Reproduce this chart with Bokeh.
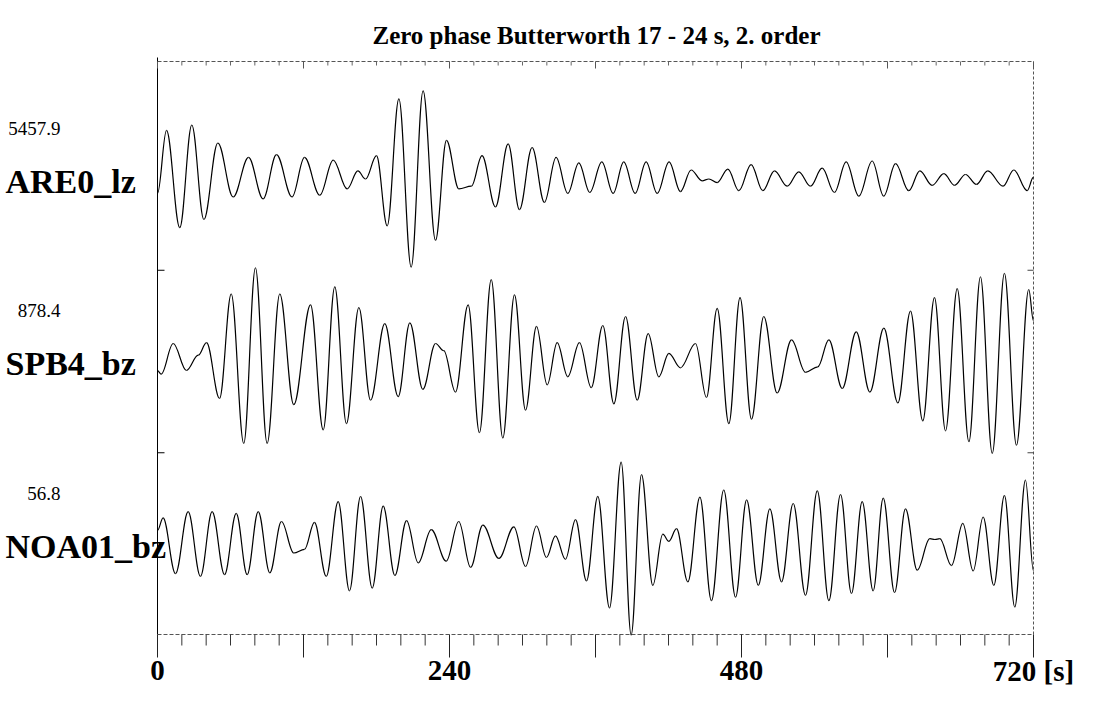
import numpy as np
from bokeh.plotting import figure
from bokeh.models import Range1d
from bokeh.core.properties import value
from bokeh.embed import file_html
from bokeh.resources import INLINE

# ---------------- data ----------------
title_text = "Zero phase Butterworth 17 - 24 s, 2. order"
stations = ["ARE0_lz", "SPB4_bz", "NOA01_bz"]
max_amps = ["5457.9", "878.4", "56.8"]
x_major = [0, 120, 240, 360, 480, 600, 720]
x_major_labels = ["0", "", "240", "", "480", "", "720 [s]"]
x_minor = list(range(0, 721, 20))

# extrema of each normalised trace (time [s], amplitude / max amplitude)
are0_t = [0, 7.4, 18.3, 28.2, 38.1, 49.6, 62.2, 74.8, 86.8, 97.8, 110.6, 120.8, 133.4,
          144.4, 155.9, 164.7, 171.0, 180.0, 188.8, 198.4, 208.5, 218.3, 228.5, 237.5,
          247.7, 258.0, 266.7, 277.8, 288.2, 297.5, 307.9, 318.0, 327.6, 337.2, 346.3,
          355.3, 365.2, 374.5, 383.2, 392.6, 401.6, 410.7, 420.5, 429.8, 438.6, 447.6,
          453.2, 460.0, 468.8, 477.8, 487.9, 497.5, 507.1, 517.5, 527.1, 536.7, 546.3,
          556.4, 566.0, 576.4, 587.4, 596.9, 606.6, 617.5, 626.6, 636.7, 646.3, 655.1,
          664.1, 673.1, 682.4, 695.0, 703.8, 714.8, 720.0]
are0_a = [-0.16, 0.54, -0.54, 0.60, -0.45, 0.40, -0.20, 0.24, -0.22, 0.27, -0.20, 0.24, -0.18,
          0.21, -0.11, 0.09, 0.00, 0.26, -0.52, 0.89, -0.98, 0.98, -0.68, 0.43,
          -0.11, -0.08, 0.26, -0.31, 0.39, -0.34, 0.35, -0.26, 0.24, -0.16, 0.18,
          -0.15, 0.19, -0.16, 0.19, -0.16, 0.19, -0.16, 0.19, -0.14, 0.10, -0.02,
          0.00, -0.04, 0.11, -0.13, 0.16, -0.13, 0.09, -0.08, 0.08, -0.08, 0.12,
          -0.15, 0.19, -0.19, 0.20, -0.19, 0.17, -0.13, 0.09, -0.07, 0.06, -0.07,
          0.05, -0.06, 0.09, -0.08, 0.10, -0.13, 0.02]

spb4_t = [0, 3.0, 12.9, 23.8, 33.5, 40.3, 51.0, 60.6, 70.9, 80.5, 90.1, 100.5, 112.0,
          125.8, 136.2, 145.7, 155.3, 165.5, 175.1, 186.8, 197.8, 207.4, 218.1, 228.5,
          235.3, 244.9, 255.3, 264.6, 274.3, 283.8, 293.4, 302.5, 311.5, 320.3, 328.5,
          337.2, 346.8, 356.5, 366.0, 375.1, 384.7, 394.3, 403.3, 412.0, 420.3, 429.8,
          442.2, 451.2, 460.0, 469.6, 478.8, 488.2, 498.3, 509.3, 521.1, 532.6, 542.7,
          551.8, 562.8, 574.3, 585.5, 597.0, 608.5, 618.9, 629.0, 638.6, 647.7, 657.3,
          666.9, 676.4, 686.1, 696.1, 706.0, 716.1, 720.0]
spb4_a = [-0.10, -0.14, 0.20, -0.10, 0.07, 0.21, -0.41, 0.75, -0.91, 1.04, -0.91, 0.75, -0.48,
          0.63, -0.76, 0.83, -0.69, 0.60, -0.43, 0.42, -0.39, 0.43, -0.31, 0.20,
          0.12, -0.34, 0.63, -0.79, 0.91, -0.85, 0.74, -0.54, 0.39, -0.26, 0.21,
          -0.17, 0.21, -0.29, 0.40, -0.47, 0.50, -0.43, 0.31, -0.17, 0.09, -0.07,
          0.20, -0.40, 0.59, -0.69, 0.71, -0.64, 0.50, -0.35, 0.24, -0.12, -0.06,
          0.24, -0.30, 0.33, -0.34, 0.37, -0.46, 0.56, -0.66, 0.71, -0.77, 0.81,
          -0.89, 0.94, -1.02, 0.98, -0.93, 0.80, 0.45]

noa01_t = [0, 4.6, 14.8, 25.2, 35.3, 44.9, 55.1, 64.7, 73.7, 82.8, 92.3, 101.9, 112.0,
           120.8, 129.0, 138.7, 148.5, 157.8, 166.9, 176.5, 185.5, 195.1, 204.7, 214.3,
           225.0, 237.3, 247.6, 257.3, 267.4, 280.6, 292.9, 302.5, 311.5, 319.7, 327.1,
           335.3, 343.6, 352.6, 361.9, 371.5, 381.1, 389.3, 397.8, 407.1, 415.3, 420.3,
           426.6, 435.9, 445.8, 455.3, 465.4, 475.1, 484.2, 493.8, 503.3, 512.9, 522.5,
           532.6, 542.3, 551.8, 561.4, 570.4, 579.2, 588.2, 596.5, 605.8, 614.8, 624.4,
           634.8, 639.0, 643.0, 652.6, 661.9, 670.4, 678.6, 687.4, 696.1, 704.6, 713.4,
           720.0]
noa01_a = [0.15, 0.29, -0.33, 0.36, -0.36, 0.36, -0.34, 0.34, -0.34, 0.36, -0.32, 0.25, -0.10,
           -0.06, 0.24, -0.36, 0.47, -0.52, 0.53, -0.49, 0.42, -0.35, 0.26, -0.21,
           0.16, -0.19, 0.25, -0.26, 0.21, -0.16, 0.19, -0.25, 0.20, -0.15, 0.09,
           -0.17, 0.27, -0.41, 0.53, -0.71, 0.91, -1.01, 0.77, -0.46, 0.11, 0.03,
           0.17, -0.42, 0.52, -0.63, 0.60, -0.59, 0.49, -0.46, 0.39, -0.42, 0.45,
           -0.57, 0.59, -0.63, 0.55, -0.55, 0.47, -0.52, 0.51, -0.54, 0.39, -0.29,
           0.06, 0.05, 0.06, -0.24, 0.23, -0.30, 0.30, -0.46, 0.54, -0.70, 0.71,
           -0.30]

traces_t = [are0_t, spb4_t, noa01_t]
traces_a = [are0_a, spb4_a, noa01_a]

# ---------------- layout (pixel geometry of the page) ----------------
W, H = 1095, 700
PX_LEFT, PX_RIGHT = 157.0, 1033.0          # screen x of t = 0 s and t = 720 s
PX_TOP, PX_BOTTOM = 61.0, 634.0            # frame top / bottom
PX_BASE0 = 178.5                           # base line of the first trace
PX_UNIT = 90.0                             # pixels per normalised amplitude unit
PX_STEP = 182.5                            # distance between trace base lines
XS = (PX_RIGHT - PX_LEFT) / 720.0
SERIF = value("Liberation Serif")


def tx(px):          # screen x -> data x
    return (px - PX_LEFT) / XS


def ty(py):          # screen y -> data y
    return (PX_BASE0 - py) / PX_UNIT


def dpx(n):          # pixel length -> data y length
    return n / PX_UNIT


SPACING = PX_STEP / PX_UNIT

p = figure(width=W, height=H, output_backend="svg", toolbar_location=None,
           x_range=Range1d(tx(0), tx(W)), y_range=Range1d(ty(H), ty(0)),
           min_border=0, x_axis_location=None, y_axis_location=None)
p.outline_line_color = None
p.xgrid.visible = False
p.ygrid.visible = False
p.background_fill_color = "white"
p.border_fill_color = "white"

y_top, y_bot = ty(PX_TOP), ty(PX_BOTTOM)

# frame lines
p.segment(x0=[0], y0=[ty(57)], x1=[0], y1=[y_bot], line_color="black", line_width=1)
p.segment(x0=[0, 0], y0=[y_top, y_bot], x1=[720, 720], y1=[y_top, y_bot],
          line_color="#555555", line_width=1, line_dash="4 2")
p.segment(x0=[720], y0=[y_top], x1=[720], y1=[y_bot],
          line_color="#555555", line_width=1, line_dash="3 2")

# time ticks (bottom, outward) and (top, inward)
minor_only = [t for t in x_minor if t not in x_major]
p.segment(x0=minor_only, y0=[y_bot] * len(minor_only), x1=minor_only,
          y1=[y_bot - dpx(11)] * len(minor_only), line_color="#333333", line_width=1)
p.segment(x0=x_major, y0=[y_bot] * len(x_major), x1=x_major,
          y1=[y_bot - dpx(23)] * len(x_major), line_color="#222222", line_width=1)
p.segment(x0=minor_only, y0=[y_top] * len(minor_only), x1=minor_only,
          y1=[y_top - dpx(4)] * len(minor_only), line_color="#666666", line_width=1)
p.segment(x0=x_major, y0=[y_top] * len(x_major), x1=x_major,
          y1=[y_top - dpx(7)] * len(x_major), line_color="#555555", line_width=1)

# band separator ticks on left and right frame lines
bands = [-SPACING / 2, -1.5 * SPACING]
p.segment(x0=[0] * 2, y0=bands, x1=[7 / XS] * 2, y1=bands, line_color="black", line_width=1)
p.segment(x0=[720] * 2, y0=bands, x1=[720 - 6 / XS] * 2, y1=bands,
          line_color="#444444", line_width=1)

# tick labels
lab_x = [t for t, s in zip(x_major, x_major_labels) if s]
lab_s = [s for s in x_major_labels if s]
p.text(x=lab_x, y=[ty(670)] * len(lab_x), text=lab_s, text_font=SERIF,
       text_font_style="bold", text_font_size="29px", text_align="center",
       text_baseline="alphabetic", text_color="black")

# title
p.text(x=[tx(596)], y=[ty(35)], text=[title_text], text_font=SERIF,
       text_font_style="bold", text_font_size="25px", text_align="center",
       text_baseline="alphabetic", text_color="black")

# traces: smooth cubic segments between successive extrema
for i, (tt, aa) in enumerate(zip(traces_t, traces_a)):
    off = -i * SPACING
    t = np.asarray(tt, dtype=float)
    y = np.asarray(aa, dtype=float) + off
    dt = t[1:] - t[:-1]
    p.bezier(x0=t[:-1], y0=y[:-1], x1=t[1:], y1=y[1:],
             cx0=t[:-1] + 0.364 * dt, cy0=y[:-1],
             cx1=t[1:] - 0.364 * dt, cy1=y[1:],
             line_color="black", line_width=1.2)

offs = [-i * SPACING for i in range(len(stations))]
p.text(x=[tx(5)] * 3, y=[o - dpx(2) for o in offs], text=stations, text_font=SERIF,
       text_font_style="bold", text_font_size="34px", text_align="left",
       text_baseline="alphabetic", text_color="black")
p.text(x=[tx(60)] * 3, y=[o + dpx(51) for o in offs], text=max_amps, text_font=SERIF,
       text_font_size="19px", text_align="right", text_baseline="alphabetic",
       text_color="black")

open("out.html", "w").write(file_html(p, INLINE))
